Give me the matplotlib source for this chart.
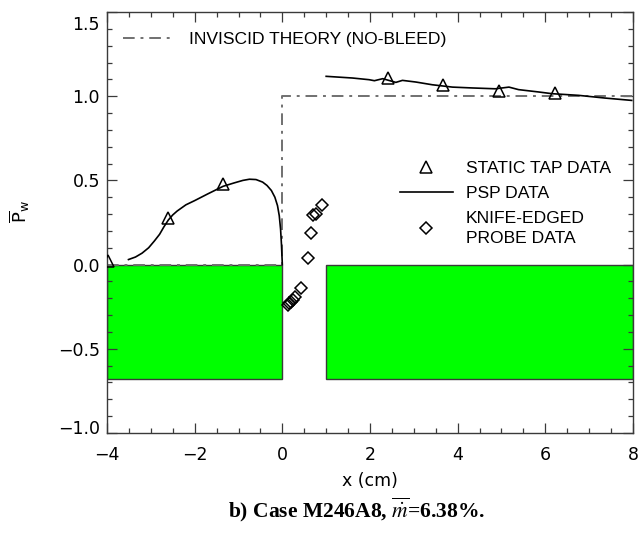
import numpy as np
import matplotlib
matplotlib.use("Agg")
import matplotlib.pyplot as plt
from matplotlib.lines import Line2D
from matplotlib.transforms import ScaledTranslation

# ---------------- data ----------------
# bleed-plate (green) regions
plate_x0 = [-4.0, 1.0]
plate_x1 = [0.0, 8.0]
plate_depth = -0.68

# inviscid theory (no-bleed)
inv_x = [-4.0, 0.0, 0.0, 8.0]
inv_y = [0.0, 0.0, 1.0, 1.0]

# PSP data (upstream and downstream of slot)
psp_up_x = [-3.51, -3.35, -3.20, -3.05, -2.92, -2.80, -2.70, -2.60, -2.50, -2.40,
            -2.20, -2.00, -1.70, -1.35, -1.10, -0.90, -0.75, -0.60, -0.45, -0.35,
            -0.25, -0.17, -0.11, -0.07, -0.04, -0.02, 0.0]
psp_up_y = [0.030, 0.045, 0.068, 0.100, 0.140, 0.180, 0.225, 0.265, 0.295, 0.318,
            0.355, 0.380, 0.420, 0.465, 0.485, 0.500, 0.507, 0.505, 0.490, 0.470,
            0.440, 0.400, 0.350, 0.290, 0.210, 0.120, 0.0]
psp_dn_x = [1.00, 1.60, 1.98, 2.10, 2.29, 2.59, 2.74, 3.05, 3.42, 3.88, 4.33, 4.86,
            5.17, 5.39, 5.85, 6.15, 6.76, 7.36, 7.97]
psp_dn_y = [1.118, 1.108, 1.098, 1.092, 1.104, 1.082, 1.094, 1.084, 1.068, 1.054,
            1.049, 1.044, 1.054, 1.039, 1.025, 1.015, 1.005, 0.989, 0.975]

# static tap data
tap_x = [-3.98, -2.60, -1.35, 2.40, 3.67, 4.94, 6.21]
tap_y = [0.020, 0.277, 0.480, 1.108, 1.068, 1.029, 1.019]

# knife-edged probe data
probe_x = [0.12, 0.16, 0.20, 0.24, 0.28, 0.43, 0.58, 0.66, 0.71, 0.77, 0.90]
probe_y = [-0.24, -0.23, -0.22, -0.21, -0.19, -0.14, 0.04, 0.19, 0.295, 0.30, 0.356]

xticks = [-4, -2, 0, 2, 4, 6, 8]
yticks = [-1.0, -0.5, 0.0, 0.5, 1.0, 1.5]

# ---------------- figure ----------------
W, H = 639, 535
fig = plt.figure(figsize=(W / 100, H / 100), dpi=100)
ax = fig.add_axes([107 / W, 1 - 433 / H, 526 / W, 421 / H])

axcol = '#3a3a3a'
green = '#00ff00'
invcol = '#707070'
invls = (0, (6, 3, 1.5, 3))

ax.bar(plate_x0, plate_depth, width=np.subtract(plate_x1, plate_x0), align='edge',
       bottom=0, color=green, edgecolor=axcol, linewidth=1.0, zorder=1)

ax.plot(inv_x, inv_y, color=invcol, lw=1.4, ls=invls, zorder=2)

ax.plot(psp_up_x, psp_up_y, color='k', lw=1.2, zorder=3)
ax.plot(psp_dn_x, psp_dn_y, color='k', lw=1.2, zorder=3)

ax.plot(tap_x, tap_y, ls='none', marker='^', ms=8, mfc='none', mec='k', mew=1.1, zorder=4)
ax.plot(probe_x, probe_y, ls='none', marker='D', ms=6.5, mfc='none', mec='k', mew=1.1, zorder=4)

ax.set_xlim(-4, 8)
ax.set_ylim(-1.0, 1.5)
ax.set_xticks(xticks)
ax.set_yticks(yticks)
ax.set_xticklabels([f"{t:d}".replace('-', '\u2212') for t in xticks])
ax.set_yticklabels([f"{t:.1f}".replace('-', '\u2212') for t in yticks])
ax.set_xticks(np.arange(-4, 8.01, 0.5), minor=True)
ax.set_yticks(np.arange(-1.0, 1.501, 0.1), minor=True)

tickfont = 'DejaVu Sans'
ax.tick_params(which='both', direction='in', top=True, right=True, color=axcol, width=0.9)
ax.tick_params(which='major', length=7.5)
ax.tick_params(which='minor', length=3.6)
ax.tick_params(axis='x', which='major', pad=9)
ax.tick_params(axis='y', which='major', pad=5)
for lab in ax.get_xticklabels() + ax.get_yticklabels():
    lab.set_fontfamily(tickfont)
    lab.set_fontsize(12.5)
for s in ax.spines.values():
    s.set_color(axcol)
    s.set_linewidth(1.0)

# shift extreme y tick labels inward (as in the reference)
ylabs = ax.get_yticklabels()
ylabs[-1].set_transform(ylabs[-1].get_transform() + ScaledTranslation(0, -8 / 72, fig.dpi_scale_trans))
ylabs[0].set_transform(ylabs[0].get_transform() + ScaledTranslation(0, 4 / 72, fig.dpi_scale_trans))

ax.set_xlabel('x (cm)', fontfamily=tickfont, fontsize=12.5, labelpad=6)
fig.text(20 / W, 1 - 212 / H, r'$\overline{\mathsf{P}}_{\mathsf{w}}$', rotation=90,
         ha='center', va='center', fontsize=13, math_fontfamily='dejavusans')

# legends
lfont = {'family': 'Liberation Sans', 'size': 12.6}
h_inv = Line2D([], [], color=invcol, lw=1.4, ls=invls)
leg1 = ax.legend([h_inv], ['INVISCID THEORY (NO-BLEED)'], loc='upper left',
                 bbox_to_anchor=((123 - 107) / 526, (433 - 32) / 421), frameon=False,
                 prop=lfont, handlelength=2.9, handletextpad=0.85, borderpad=0,
                 borderaxespad=0)
ax.add_artist(leg1)

h_tap = Line2D([], [], ls='none', marker='^', ms=8, mfc='none', mec='k', mew=1.1)
h_psp = Line2D([], [], color='k', lw=1.2)
h_prb = Line2D([], [], ls='none', marker='D', ms=6.5, mfc='none', mec='k', mew=1.1)
leg2 = ax.legend([h_tap, h_psp, h_prb], ['STATIC TAP DATA', 'PSP DATA', 'KNIFE-EDGED\nPROBE DATA'],
                 loc='upper left', bbox_to_anchor=((400 - 107) / 526, (433 - 161) / 421),
                 frameon=False, prop=lfont, handlelength=3.0, handletextpad=0.75,
                 labelspacing=0.55, borderpad=0, borderaxespad=0)
for t in leg2.get_texts():
    t.set_linespacing(1.45)

fig.text(357 / W, 1 - 510 / H, r'b) Case M246A8, $\overline{\dot{m}}$=6.38%.',
         ha='center', va='center', fontfamily='Liberation Serif', fontweight='bold',
         fontsize=15.5, math_fontfamily='stix')

fig.savefig('out.png', dpi=100)
